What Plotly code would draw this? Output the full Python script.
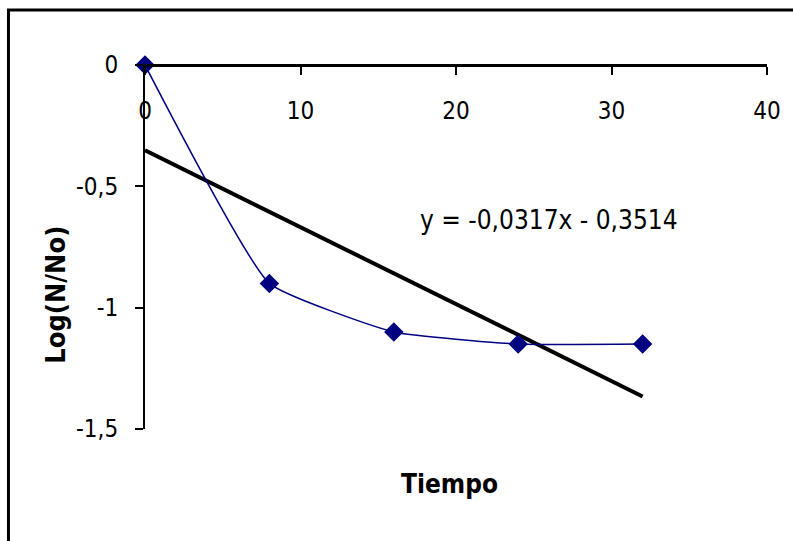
import plotly.graph_objects as go

# Data
tiempo = [0, 8, 16, 24, 32]
log_n_no = [0, -0.9, -1.1, -1.15, -1.15]
slope = -0.0317
intercept = -0.3514
trend_x = [0, 32]
trend_y = [slope * x + intercept for x in trend_x]
x_tick_vals = [0, 10, 20, 30, 40]
x_tick_text = ["0", "10", "20", "30", "40"]
y_tick_vals = [0, -0.5, -1, -1.5]
y_tick_text = ["0", "-0,5", "-1", "-1,5"]
equation = "y = -0,0317x - 0,3514"

FONT = "DejaVu Sans Condensed, Liberation Sans Narrow, Arial Narrow, sans-serif"

fig = go.Figure()
fig.add_trace(go.Scatter(
    x=trend_x, y=trend_y, mode="lines",
    line=dict(color="black", width=4),
    cliponaxis=False, showlegend=False, hoverinfo="skip"))
fig.add_trace(go.Scatter(
    x=tiempo, y=log_n_no, mode="lines+markers",
    line=dict(color="#000080", width=1.5, shape="spline", smoothing=0.4),
    marker=dict(symbol="diamond", size=15, color="#000080"),
    cliponaxis=False, showlegend=False))

fig.update_layout(
    width=793, height=541,
    margin=dict(l=145, r=26, t=65, b=111.5, autoexpand=False),
    paper_bgcolor="white", plot_bgcolor="white",
    font=dict(family=FONT, color="black", size=24),
    xaxis=dict(
        range=[0, 40], tickvals=x_tick_vals, ticktext=x_tick_text,
        showline=True, linecolor="black", linewidth=2.5,
        ticks="outside", ticklen=8, tickwidth=2, tickcolor="black",
        anchor="free", position=1, side="bottom",
        showgrid=False, zeroline=False, ticklabelstandoff=15,
        tickfont=dict(family=FONT, size=24), automargin=False),
    yaxis=dict(
        range=[-1.5, 0], tickvals=y_tick_vals, ticktext=y_tick_text,
        showline=True, linecolor="black", linewidth=2,
        ticks="outside", ticklen=8, tickwidth=2, tickcolor="black",
        showgrid=False, zeroline=False, ticklabelstandoff=12,
        tickfont=dict(family=FONT, size=24), automargin=False),
    annotations=[
        dict(text="<b>Log(N/No)</b>", xref="paper", yref="paper", x=-0.143, y=0.369,
             xanchor="center", yanchor="middle", textangle=-90,
             showarrow=False, font=dict(family=FONT, size=27)),
        dict(text="<b>Tiempo</b>", xref="paper", yref="paper", x=0.49, y=-0.152,
             xanchor="center", yanchor="middle",
             showarrow=False, font=dict(family=FONT, size=26)),
        dict(text=equation, xref="x", yref="y", x=26, y=-0.64,
             xanchor="center", yanchor="middle",
             showarrow=False, font=dict(family=FONT, size=26)),
    ],
    shapes=[dict(type="rect", xref="paper", yref="paper",
                 x0=-0.2195, x1=1.06, y0=-0.35, y1=1.151,
                 line=dict(color="black", width=3), layer="below")],
)

fig.write_html("out.html")
